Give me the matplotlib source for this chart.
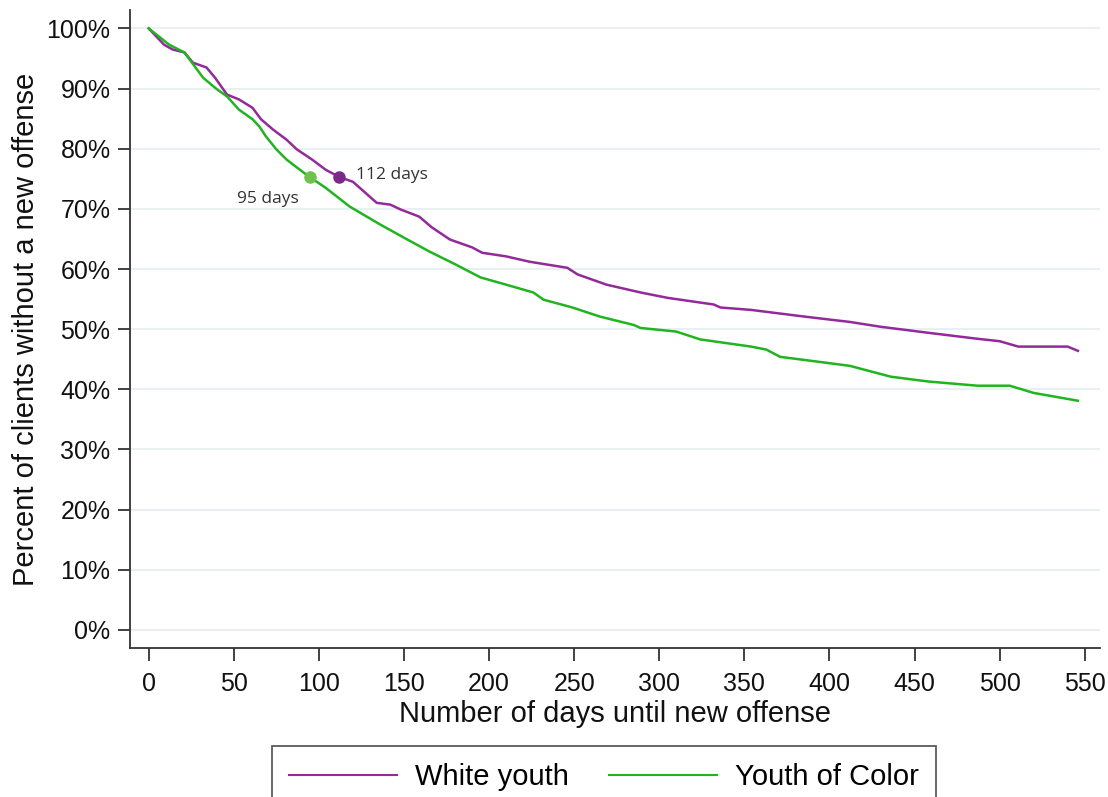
import matplotlib.pyplot as plt

# Kaplan-Meier style curves
white_days = [0, 9, 14, 21, 26, 34, 39, 46, 53, 61, 66, 73, 81, 87, 96, 104, 112,
              120, 134, 142, 148, 159, 166, 177, 190, 196, 210, 224, 246, 252, 269,
              289, 305, 332, 336, 354, 385, 412, 430, 458, 487, 500, 511, 540, 546]
white_pct = [100, 97.3, 96.5, 96.0, 94.3, 93.5, 91.8, 89.0, 88.2, 86.8, 84.9, 83.2,
             81.5, 79.9, 78.2, 76.5, 75.3, 74.5, 71.0, 70.7, 69.9, 68.7, 67.0, 64.9,
             63.6, 62.7, 62.1, 61.2, 60.2, 59.1, 57.4, 56.1, 55.2, 54.1, 53.6, 53.2,
             52.1, 51.2, 50.4, 49.4, 48.4, 48.0, 47.1, 47.1, 46.4]

color_days = [0, 12, 21, 27, 32, 40, 46, 53, 61, 65, 69, 75, 81, 87, 94, 104, 118,
              136, 152, 165, 180, 195, 210, 226, 232, 249, 265, 285, 289, 310, 324,
              354, 363, 371, 393, 412, 436, 458, 487, 506, 520, 536, 546]
color_pct = [100, 97.3, 96.0, 93.7, 91.8, 89.9, 88.7, 86.5, 84.9, 83.7, 82.0, 79.9,
             78.2, 76.9, 75.4, 73.5, 70.4, 67.4, 64.9, 62.9, 60.8, 58.6, 57.4, 56.1,
             54.9, 53.6, 52.1, 50.7, 50.2, 49.6, 48.3, 47.1, 46.6, 45.4, 44.6, 43.9,
             42.1, 41.3, 40.6, 40.6, 39.4, 38.6, 38.1]

# median survival points
med_days = [112, 95]
med_pct = [75.3, 75.3]
med_labels = ['112 days', '95 days']

purple = '#922A9A'
green = '#20B420'

plt.rcParams['font.family'] = ['Liberation Sans', 'DejaVu Sans']

fig = plt.figure(figsize=(11.08, 7.97), dpi=100)
ax = fig.add_axes([0.1173, 0.187, 0.8755, 0.800])

# light horizontal grid
yt = list(range(0, 101, 10))
for y in yt:
    ax.axhline(y, color='#E8F0F1', lw=1.5, zorder=0)

ax.plot(white_days, white_pct, color=purple, lw=1.8, label='White youth', zorder=3)
ax.plot(color_days, color_pct, color=green, lw=1.8, label='Youth of Color', zorder=3)

ax.plot(med_days[0], med_pct[0], 'o', color='#7A2B8A', ms=8, zorder=4)
ax.plot(med_days[1], med_pct[1], 'o', color='#6CC24A', ms=8, zorder=4)
ax.text(med_days[0] + 10, med_pct[0] + 0.3, med_labels[0], fontsize=12.5,
        family=['Open Sans', 'DejaVu Sans'], color='#333333', va='center', ha='left')
ax.text(med_days[1] - 7, med_pct[1] - 3.7, med_labels[1], fontsize=12.5,
        family=['Open Sans', 'DejaVu Sans'], color='#333333', va='center', ha='right')

ax.set_xlim(-11, 559)
ax.set_ylim(-3, 103)
ax.set_xticks(range(0, 551, 50))
ax.set_yticks(yt)
ax.set_yticklabels([f'{v}%' for v in yt])
ax.tick_params(axis='both', labelsize=18, length=9, width=1.3, color='#333333',
               labelcolor='#111111')
ax.tick_params(axis='y', pad=5)
ax.tick_params(axis='x', pad=8)

for s in ['top', 'right']:
    ax.spines[s].set_visible(False)
for s in ['left', 'bottom']:
    ax.spines[s].set_color('#333333')
    ax.spines[s].set_linewidth(1.3)

ax.set_xlabel('Number of days until new offense', fontsize=21, labelpad=3, color='#111111')
ax.set_ylabel('Percent of clients without a new offense', fontsize=21, labelpad=5,
              color='#111111')

leg = fig.legend(loc='upper center', bbox_to_anchor=(0.545, 0.064), ncol=2,
                 fontsize=21, frameon=True, fancybox=False, handlelength=3.7,
                 columnspacing=1.4, borderpad=0.6, handletextpad=0.6,
                 borderaxespad=0)
leg.get_frame().set_edgecolor('#333333')
leg.get_frame().set_linewidth(1.3)
for line in leg.get_lines():
    line.set_linewidth(1.5)

plt.savefig('out.png', dpi=100)
